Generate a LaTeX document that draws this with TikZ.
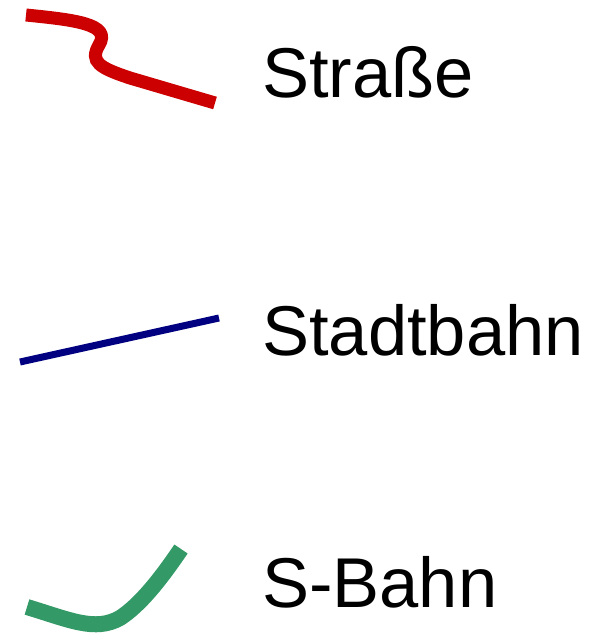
\documentclass[tikz,border=0pt]{standalone}
\usepackage{fontspec}
\setmainfont{Liberation Sans}
\definecolor{roadred}{RGB}{204,0,0}
\definecolor{tramblue}{RGB}{0,0,128}
\definecolor{sgreen}{RGB}{51,153,102}
\tikzset{
  lbl/.style={anchor=base west, inner sep=0pt, font=\fontsize{70.5}{80}\selectfont},
}
\begin{document}
\begin{tikzpicture}[x=1pt,y=-1pt]
\useasboundingbox (0,0) rectangle (604,634);
\draw[roadred, line width=13pt]
  (26,15) .. controls (75,20) and (112,24) .. (99,45)
  .. controls (89,62) and (100,68) .. (130,78) -- (215,103);
\draw[tramblue, line width=7pt] (20,362) -- (219,318);
\draw[sgreen, line width=16pt]
  (27,607) .. controls (70,620) and (95,632) .. (120,618)
  .. controls (140,605) and (160,580) .. (181,549);
\node[lbl] (s1) at (262,97) {Straße};
\node[lbl] (s2) at (262,355) {Stadtbahn};
\node[lbl] (s3) at (262,607) {S-Bahn};
\end{tikzpicture}
\end{document}
